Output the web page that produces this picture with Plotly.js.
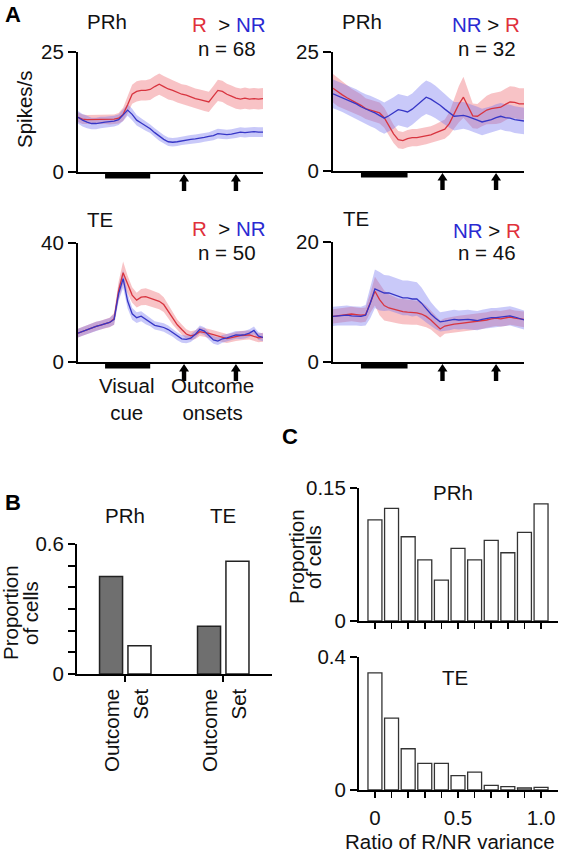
<!DOCTYPE html>
<html><head><meta charset="utf-8">
<script src="https://cdn.plot.ly/plotly-3.0.1.min.js"></script>
<style>html,body{margin:0;padding:0;background:#fff;}#chart{width:564px;height:853px;}</style>
</head><body><div id="chart"></div>
<script>
// ---------- DATA ----------
const time = [-0.6,-0.5,-0.4,-0.3,-0.2,-0.1,0,0.1,0.2,0.3,0.4,0.5,0.6,0.7,0.8,0.9,1.0,1.1,1.2,1.3,1.4,1.5,1.6,1.7,1.8,1.9,2.0,2.1,2.2,2.3,2.4,2.5,2.6,2.7,2.8,2.9,3.0,3.1,3.2,3.3,3.4,3.5];
const cueWindow = [0, 1];
const outcomeOnsets = [1.75, 2.9];

// PRh, R > NR (n = 68)
const prhA_R = [11.4,11.0,10.9,10.9,10.9,11.0,11.0,10.9,11.0,11.2, 12.0,14.0,16.2,16.8,17.0,17.0,17.2,17.8,18.3,17.8, 17.3,17.0,16.6,16.2,16.0,15.6,15.3,15.1,14.8,14.6, 15.8,17.0,16.8,16.2,15.8,15.4,15.2,15.4,15.2,15.3, 15.2,15.3];
const prhA_Rse = [1.0,1.0,1.0,1.0,1.0,1.0,1.0,1.0,1.0,1.1, 1.4,1.8,2.0,2.1,2.1,2.1,2.2,2.2,2.2,2.2, 2.2,2.1,2.1,2.1,2.1,2.1,2.1,2.1,2.1,2.1, 2.1,2.2,2.2,2.2,2.2,2.2,2.2,2.2,2.2,2.2, 2.2,2.2];
const prhA_NR = [11.4,10.8,10.4,10.1,10.1,10.3,10.4,10.5,10.6,10.9, 11.8,12.9,12.0,10.8,10.2,9.6,9.0,8.2,7.4,6.8, 6.3,6.2,6.3,6.5,6.6,6.8,6.9,7.0,7.2,7.4, 7.6,8.0,7.9,7.8,7.9,8.1,8.3,8.2,8.3,8.4, 8.3,8.3];
const prhA_NRse = [1.3,1.3,1.3,1.2,1.2,1.2,1.1,1.1,1.1,1.1, 1.2,1.2,1.2,1.1,1.0,1.0,0.9,0.9,0.9,0.9, 0.9,0.9,0.9,0.9,0.9,0.9,0.9,0.9,0.9,0.9, 1.0,1.0,1.0,1.0,1.0,1.0,1.0,1.0,1.0,1.0, 1.0,1.0];

// PRh, NR > R (n = 32)
const prhB_R = [17.4,16.6,16.0,15.4,14.8,14.3,13.8,13.1,12.8,12.5, 12.2,11.2,9.6,7.8,6.6,6.4,6.8,7.0,7.0,7.2, 7.4,7.6,8.0,8.4,8.8,10.0,12.0,14.0,15.5,13.6, 11.6,11.5,12.2,12.8,13.1,13.2,13.4,14.0,14.5,14.4, 14.1,14.1];
const prhB_Rse = [3.0,3.0,2.8,2.6,2.5,2.4,2.3,2.2,2.2,2.2, 2.2,2.1,2.0,1.9,1.8,1.8,1.8,1.8,1.8,1.8, 1.8,1.8,1.8,1.9,2.0,2.4,3.0,3.8,4.3,3.5, 2.6,2.6,2.8,3.0,3.2,3.3,3.3,3.3,3.3,3.3, 3.3,3.3];
const prhB_NR = [16.2,15.8,15.4,15.0,14.5,14.1,13.5,13.0,12.6,12.2, 11.6,11.1,11.6,12.2,12.9,12.7,12.4,13.0,13.9,14.8, 15.5,15.1,14.5,13.8,13.0,12.2,11.5,11.6,11.7,11.4, 11.1,10.7,10.3,10.5,10.8,11.2,11.5,11.2,11.1,10.8, 10.6,10.5];
const prhB_NRse = [3.0,3.0,3.0,3.0,3.0,3.1,3.1,3.1,3.2,3.2, 3.3,3.3,3.3,3.3,3.3,3.3,3.3,3.3,3.4,3.4, 3.5,3.5,3.4,3.3,3.2,3.1,3.0,2.9,2.8,2.8, 2.8,2.8,2.8,2.8,2.8,2.8,2.8,2.8,2.8,2.8, 2.8,2.8];

// TE, R > NR (n = 50)
const teA_R = [9.7,10.3,11.0,11.5,12.0,12.4,12.9,13.3,14.5,24.0, 30.0,26.0,22.5,20.8,21.8,22.0,21.5,21.0,20.4,19.3, 17.0,14.5,12.5,10.9,9.4,8.8,9.2,10.2,10.0,9.6, 9.2,8.7,8.2,7.9,8.2,8.6,8.9,9.0,9.1,8.6, 8.1,8.3];
const teA_Rse = [1.5,1.5,1.5,1.5,1.5,1.5,1.5,1.6,2.0,3.0, 3.8,3.0,2.6,2.5,2.7,2.8,2.8,2.8,2.7,2.5, 2.3,2.0,1.8,1.7,1.6,1.5,1.5,1.5,1.5,1.5, 1.5,1.5,1.5,1.5,1.5,1.5,1.5,1.5,1.5,1.5, 1.5,1.5];
const teA_NR = [9.7,10.3,11.0,11.5,12.0,12.4,12.9,13.3,14.3,23.0, 28.0,20.5,16.2,14.9,15.4,14.3,13.5,12.3,12.0,11.6, 10.9,9.8,8.6,7.8,7.6,8.0,9.3,11.0,10.4,8.8, 7.4,7.0,7.8,8.1,8.6,9.1,9.0,9.2,9.7,10.6, 8.7,8.3];
const teA_NRse = [1.5,1.5,1.5,1.5,1.5,1.5,1.5,1.5,1.8,2.5, 3.0,2.5,2.0,1.8,1.7,1.6,1.5,1.4,1.4,1.4, 1.4,1.3,1.3,1.3,1.3,1.3,1.3,1.3,1.3,1.3, 1.3,1.3,1.3,1.3,1.3,1.3,1.3,1.3,1.3,1.3, 1.3,1.3];

// TE, NR > R (n = 46)
const teB_R = [7.6,7.7,7.8,7.9,8.0,7.9,7.8,7.9,9.8,11.8, 10.4,9.4,9.0,8.8,8.5,8.4,8.3,8.3,8.2,8.0, 7.6,7.0,6.2,5.5,6.0,6.2,6.3,6.4,6.5,6.5, 6.6,6.7,6.8,7.0,7.2,7.3,7.2,7.3,7.5,7.3, 7.2,7.1];
const teB_Rse = [1.2,1.2,1.2,1.2,1.2,1.2,1.2,1.2,1.6,2.4, 2.6,2.5,2.3,2.2,2.1,2.1,2.1,2.1,2.0,2.0, 1.8,1.6,1.5,1.4,1.3,1.3,1.3,1.3,1.3,1.3, 1.3,1.3,1.3,1.3,1.3,1.3,1.3,1.3,1.3,1.3, 1.3,1.3];
const teB_NR = [7.6,7.7,7.8,7.8,7.7,7.7,7.6,7.8,9.8,12.2, 11.8,11.5,11.5,11.2,11.0,10.7,10.7,10.5,10.5,9.8, 8.9,8.0,7.3,6.7,6.8,6.9,7.1,7.0,7.1,7.1, 7.0,6.9,7.1,7.3,7.4,7.4,7.5,7.6,7.7,7.5, 7.2,7.0];
const teB_NRse = [1.6,1.6,1.6,1.6,1.6,1.6,1.6,1.7,2.5,3.2, 3.2,3.0,2.9,2.9,2.9,2.9,2.9,2.9,2.8,2.6, 2.3,2.0,1.8,1.6,1.6,1.6,1.6,1.6,1.6,1.6, 1.6,1.6,1.6,1.6,1.6,1.6,1.6,1.6,1.6,1.6, 1.6,1.6];

// Panel B
const bAreas = ['PRh', 'TE'];
const bOutcome = [0.45, 0.22];
const bSet = [0.13, 0.52];

// Panel C
const ratioBins = [0,0.1,0.2,0.3,0.4,0.5,0.6,0.7,0.8,0.9,1.0];
const ratioTickText = ['0','','','','','0.5','','','','','1.0'];
const cPRh = [0.114,0.127,0.095,0.069,0.046,0.082,0.069,0.091,0.077,0.100,0.132];
const cTE = [0.352,0.216,0.124,0.080,0.080,0.043,0.054,0.014,0.010,0.006,0.008];

// ---------- DRAWING ----------
const W = 564, H = 853;
const px = x => x / W, py = y => 1 - y / H;
const FONT = '"Liberation Sans", Arial, Helvetica, sans-serif';
const FS = 20.5;
const RED_LINE = '#d8343f', BLUE_LINE = '#3636c6';
const RED_BAND = 'rgba(238,104,112,0.40)', BLUE_BAND = 'rgba(112,112,238,0.38)';
const RED_TXT = '#e0303a', BLUE_TXT = '#2a2ad2';

function band(x, m, se, color, xa, ya) {
  const up = m.map((v, i) => v + se[i]);
  const lo = m.map((v, i) => v - se[i]);
  return {type:'scatter', mode:'lines', x:x.concat(x.slice().reverse()), y:up.concat(lo.slice().reverse()),
    fill:'toself', fillcolor:color, line:{width:0}, xaxis:xa, yaxis:ya, hoverinfo:'skip', showlegend:false};
}
function line(x, y, color, xa, ya) {
  return {type:'scatter', mode:'lines', x:x, y:y, line:{color:color, width:1.3}, xaxis:xa, yaxis:ya, showlegend:false};
}

const panels = [
  {xa:'x',  ya:'y',  R:prhA_R, Rse:prhA_Rse, NR:prhA_NR, NRse:prhA_NRse, ymax:25, xd:[78,263], yd:[52,172], area:'PRh', rFirst:true,  n:68},
  {xa:'x2', ya:'y2', R:prhB_R, Rse:prhB_Rse, NR:prhB_NR, NRse:prhB_NRse, ymax:25, xd:[333,524], yd:[52,171], area:'PRh', rFirst:false, n:32},
  {xa:'x3', ya:'y3', R:teA_R,  Rse:teA_Rse,  NR:teA_NR,  NRse:teA_NRse,  ymax:40, xd:[78,263], yd:[243,362], area:'TE', rFirst:true,  n:50},
  {xa:'x4', ya:'y4', R:teB_R,  Rse:teB_Rse,  NR:teB_NR,  NRse:teB_NRse,  ymax:20, xd:[333,524], yd:[242,362], area:'TE', rFirst:false, n:46}
];
// text placement per panel (pixels)
const textPos = [
  {area:[107,21], rel:[267,25], n:[258,48]},
  {area:[362,21], rel:[522,25], n:[518,48]},
  {area:[100,219], rel:[267,229], n:[258,252]},
  {area:[356,218], rel:[523,230], n:[518,252]}
];

const data = [];
const layout = {
  width:W, height:H, margin:{l:0,r:0,t:0,b:0}, paper_bgcolor:'#fff', plot_bgcolor:'rgba(0,0,0,0)',
  font:{family:FONT, size:FS, color:'#111'}, showlegend:false, barmode:'overlay',
  shapes:[], annotations:[]
};
const ann = (o) => layout.annotations.push(Object.assign({showarrow:false, xanchor:'center', yanchor:'middle',
  xref:'paper', yref:'paper', font:{family:FONT, size:FS, color:'#111'}}, o));
const arrowPath = 'M0,0 L-5,-7.5 L-2.2,-7.5 L-2.2,-17 L2.2,-17 L2.2,-7.5 L5,-7.5 Z';

panels.forEach((p, k) => {
  data.push(band(time, p.R, p.Rse, RED_BAND, p.xa, p.ya));
  data.push(band(time, p.NR, p.NRse, BLUE_BAND, p.xa, p.ya));
  data.push(line(time, p.R, RED_LINE, p.xa, p.ya));
  data.push(line(time, p.NR, BLUE_LINE, p.xa, p.ya));
  const xk = 'xaxis' + (k ? k + 1 : ''), yk = 'yaxis' + (k ? k + 1 : '');
  layout[xk] = {domain:[px(p.xd[0]), px(p.xd[1])], range:[-0.6, 3.5], anchor:p.ya,
    showline:true, linecolor:'#000', linewidth:2, ticks:'', showticklabels:false, showgrid:false, zeroline:false};
  layout[yk] = {domain:[py(p.yd[1]), py(p.yd[0])], range:[0, p.ymax], anchor:p.xa,
    tickvals:[0, p.ymax], ticks:'outside', ticklen:8, tickwidth:2, tickcolor:'#000',
    showline:true, linecolor:'#000', linewidth:2, showgrid:false, zeroline:false, tickfont:{size:FS}};
  const base = p.yd[1];
  layout.shapes.push({type:'rect', xref:p.xa, yref:'paper', x0:cueWindow[0], x1:cueWindow[1],
    y0:py(base + 6.5), y1:py(base + 1), fillcolor:'#000', line:{width:0}});
  outcomeOnsets.forEach(t => layout.shapes.push({type:'path', xref:p.xa, yref:'paper',
    xsizemode:'pixel', ysizemode:'pixel', xanchor:t, yanchor:py(base + 2), path:arrowPath,
    fillcolor:'#000', line:{width:0}}));
  const tp = textPos[k];
  ann({x:px(tp.area[0]), y:py(tp.area[1]), text:p.area});
  const r = '<span style="color:' + RED_TXT + '">R</span>', nr = '<span style="color:' + BLUE_TXT + '">NR</span>';
  const rel = p.rFirst ? (r + '&nbsp;&nbsp;&gt; ' + nr) : (nr + ' &gt; ' + r);
  ann({x:px(tp.rel[0]), y:py(tp.rel[1]), xanchor:'right', text:rel});
  ann({x:px(tp.n[0]), y:py(tp.n[1]), xanchor:'right', text:'n = ' + p.n});
});

ann({x:px(24), y:py(110), textangle:-90, text:'Spikes/s'});
ann({x:px(126), y:py(399), text:'Visual<br>cue'});
ann({x:px(212), y:py(399), text:'Outcome<br>onsets'});

// panel letters
ann({x:px(13), y:py(15), text:'<b>A</b>', font:{family:FONT, size:22, color:'#000'}});
ann({x:px(13), y:py(503), text:'<b>B</b>', font:{family:FONT, size:22, color:'#000'}});
ann({x:px(290), y:py(436), text:'<b>C</b>', font:{family:FONT, size:22, color:'#000'}});

// ---------- Panel B ----------
data.push({type:'bar', x:bAreas, y:bOutcome, xaxis:'x5', yaxis:'y5', width:0.235, offset:-0.26,
  marker:{color:'#6f6f6f', line:{color:'#222', width:1.5}}, showlegend:false});
data.push({type:'bar', x:bAreas, y:bSet, xaxis:'x5', yaxis:'y5', width:0.235, offset:0.03,
  marker:{color:'#fff', line:{color:'#222', width:1.5}}, showlegend:false});
layout.xaxis5 = {domain:[px(77), px(272)], type:'category', range:[-0.49, 1.5], anchor:'y5',
  showline:true, linecolor:'#000', linewidth:2, ticks:'outside', ticklen:6, tickwidth:2, tickcolor:'#000',
  showticklabels:false, showgrid:false, zeroline:false};
layout.yaxis5 = {domain:[py(674), py(544)], range:[0, 0.6], anchor:'x5',
  tickvals:[0,0.1,0.2,0.3,0.4,0.5,0.6], ticktext:['0','','','','','','0.6'],
  ticks:'outside', ticklen:7, tickwidth:2, tickcolor:'#000', showline:true, linecolor:'#000', linewidth:2,
  showgrid:false, zeroline:false};
bAreas.forEach((a, i) => {
  ann({xref:'x5', x:i, y:py(515), text:a});
  ann({xref:'x5', x:i, xshift:-13.5, y:py(687), yanchor:'top', textangle:-90, text:'Outcome'});
  ann({xref:'x5', x:i, xshift:15, y:py(687), yanchor:'top', textangle:-90, text:'Set'});
});
ann({x:px(10), y:py(613), textangle:-90, text:'Proportion'});
ann({x:px(30), y:py(613), textangle:-90, text:'of cells'});

// ---------- Panel C ----------
data.push({type:'bar', x:ratioBins, y:cPRh, xaxis:'x6', yaxis:'y6', width:0.084,
  marker:{color:'#fff', line:{color:'#333', width:1.3}}, showlegend:false});
data.push({type:'bar', x:ratioBins, y:cTE, xaxis:'x7', yaxis:'y7', width:0.084,
  marker:{color:'#fff', line:{color:'#333', width:1.3}}, showlegend:false});
const cX = (anchor, labels) => ({domain:[px(359), px(558)], range:[-0.096, 1.102], anchor:anchor,
  tickvals:ratioBins, ticktext:ratioTickText, showticklabels:labels, ticks:'outside', ticklen:6, tickwidth:1.5, tickcolor:'#000',
  ticklabelstandoff:2,
  showline:true, linecolor:'#000', linewidth:2, showgrid:false, zeroline:false});
layout.xaxis6 = cX('y6', false);
layout.xaxis7 = cX('y7', true);
layout.yaxis6 = {domain:[py(621), py(488)], range:[0, 0.15], anchor:'x6', tickvals:[0, 0.15], ticktext:['0','0.15'],
  ticks:'outside', ticklen:7, tickwidth:2, tickcolor:'#000', showline:true, linecolor:'#000', linewidth:2, showgrid:false, zeroline:false};
layout.yaxis7 = {domain:[py(790), py(657)], range:[0, 0.4], anchor:'x7', tickvals:[0, 0.4], ticktext:['0','0.4'],
  ticks:'outside', ticklen:7, tickwidth:2, tickcolor:'#000', showline:true, linecolor:'#000', linewidth:2, showgrid:false, zeroline:false};
ann({x:px(453), y:py(492), text:'PRh'});
ann({x:px(455), y:py(677), text:'TE'});
ann({x:px(296), y:py(557), textangle:-90, text:'Proportion'});
ann({x:px(313), y:py(557), textangle:-90, text:'of cells'});
ann({x:px(450), y:py(841), text:'Ratio of R/NR variance'});

Plotly.newPlot('chart', data, layout, {staticPlot:true});
</script></body></html>
